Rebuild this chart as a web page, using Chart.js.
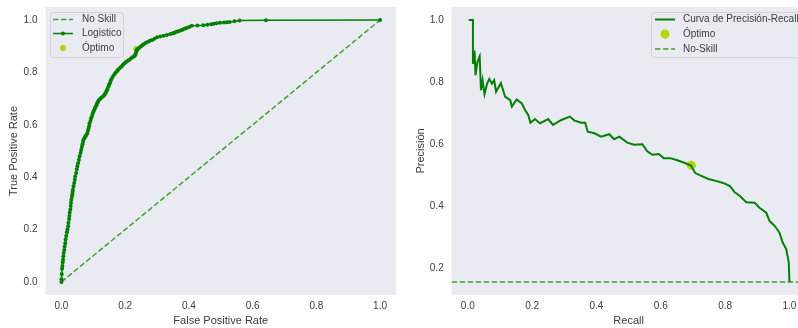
<!DOCTYPE html>
<html>
<head>
<meta charset="utf-8">
<script src="https://cdn.jsdelivr.net/npm/chart.js@4.4.0/dist/chart.umd.min.js"></script>
<style>
  html, body { margin: 0; padding: 0; background: #ffffff; overflow: hidden; width: 798px; height: 328px; }
  canvas { position: absolute; top: 0; }
  #roc { left: 0; }
  #pr { left: 400px; }
</style>
</head>
<body>
<canvas id="roc" width="400" height="328"></canvas>
<canvas id="pr" width="410" height="328"></canvas>
<script>
// ---- ROC curve (logistic model) ----
const rocFpr = [0, 0, 0.001, 0.002, 0.003, 0.004, 0.005, 0.006, 0.007, 0.009,
  0.010, 0.012, 0.013, 0.015, 0.017, 0.019, 0.021, 0.022, 0.024, 0.025,
  0.026, 0.028, 0.029, 0.030, 0.031, 0.033, 0.034, 0.035, 0.036, 0.038,
  0.040, 0.042, 0.043, 0.046, 0.048, 0.050, 0.052, 0.055, 0.057, 0.060,
  0.062, 0.064, 0.066, 0.068, 0.069, 0.072, 0.075, 0.078, 0.081, 0.083,
  0.085, 0.087, 0.088, 0.091, 0.093, 0.096, 0.098, 0.100, 0.102, 0.105,
  0.107, 0.110, 0.112, 0.115, 0.117, 0.121, 0.125, 0.130, 0.134, 0.137,
  0.140, 0.143, 0.145, 0.148, 0.150, 0.153, 0.155, 0.159, 0.163, 0.167,
  0.171, 0.175, 0.178, 0.182, 0.186, 0.190, 0.194, 0.198, 0.202, 0.207,
  0.212, 0.218, 0.223, 0.228, 0.231, 0.233, 0.235, 0.236, 0.238, 0.240,
  0.245, 0.250, 0.255, 0.259, 0.265, 0.272, 0.278, 0.285, 0.292, 0.300,
  0.310, 0.321, 0.331, 0.342, 0.350, 0.355, 0.361, 0.367, 0.374, 0.380,
  0.386, 0.393, 0.401, 0.409, 0.427, 0.445, 0.458, 0.470, 0.478, 0.487,
  0.498, 0.510, 0.519, 0.528, 0.543, 0.559, 0.642, 1.0];
const rocTpr = [0, 0.01, 0.03, 0.05, 0.061, 0.075, 0.085, 0.098, 0.11, 0.122,
  0.135, 0.148, 0.162, 0.175, 0.19, 0.2, 0.213, 0.226, 0.24, 0.252,
  0.264, 0.277, 0.29, 0.302, 0.314, 0.325, 0.335, 0.344, 0.352, 0.365,
  0.378, 0.39, 0.403, 0.416, 0.43, 0.442, 0.453, 0.467, 0.48, 0.492,
  0.504, 0.515, 0.525, 0.534, 0.542, 0.549, 0.555, 0.561, 0.567, 0.576,
  0.585, 0.595, 0.605, 0.615, 0.625, 0.634, 0.643, 0.649, 0.655, 0.662,
  0.668, 0.675, 0.682, 0.688, 0.694, 0.699, 0.703, 0.708, 0.713, 0.719,
  0.725, 0.732, 0.738, 0.747, 0.755, 0.762, 0.770, 0.779, 0.787, 0.794,
  0.801, 0.806, 0.81, 0.815, 0.820, 0.825, 0.83, 0.835, 0.839, 0.844,
  0.848, 0.853, 0.858, 0.862, 0.866, 0.871, 0.878, 0.885, 0.888, 0.890,
  0.895, 0.900, 0.905, 0.909, 0.913, 0.917, 0.921, 0.924, 0.929, 0.934,
  0.937, 0.940, 0.943, 0.947, 0.950, 0.952, 0.955, 0.957, 0.96, 0.963,
  0.967, 0.970, 0.974, 0.978, 0.979, 0.980, 0.982, 0.984, 0.986, 0.988,
  0.99, 0.991, 0.992, 0.993, 0.996, 0.998, 0.999, 1.0];
const noSkillFpr = [0, 1];
const noSkillTpr = [0, 1];
const rocOptFpr = [0.235];
const rocOptTpr = [0.89];

// ---- Precision-Recall curve ----
const prRecall = [0.003, 0.016, 0.016, 0.021, 0.024, 0.030, 0.037, 0.041, 0.046, 0.052, 0.060, 0.067, 0.075, 0.082,
  0.088, 0.103, 0.116, 0.132, 0.137, 0.152, 0.168, 0.178, 0.188, 0.195, 0.209, 0.224, 0.250, 0.265, 0.291, 0.317,
  0.332, 0.353, 0.365, 0.373, 0.394, 0.414, 0.440, 0.455, 0.471, 0.496, 0.517, 0.543, 0.558, 0.574, 0.594, 0.609,
  0.630, 0.651, 0.671, 0.694, 0.707, 0.728, 0.748, 0.774, 0.794, 0.815, 0.830, 0.846, 0.866, 0.892, 0.907, 0.928,
  0.938, 0.954, 0.969, 0.979, 0.990, 0.998, 1.0];
const prPrecision = [1.0, 1.0, 0.859, 0.902, 0.822, 0.865, 0.883, 0.774, 0.806, 0.761, 0.795, 0.810, 0.795, 0.806,
  0.769, 0.797, 0.753, 0.742, 0.721, 0.744, 0.731, 0.710, 0.694, 0.669, 0.681, 0.667, 0.681, 0.662, 0.678, 0.689,
  0.676, 0.669, 0.669, 0.640, 0.635, 0.624, 0.632, 0.616, 0.624, 0.605, 0.598, 0.600, 0.577, 0.566, 0.568, 0.555,
  0.555, 0.548, 0.541, 0.531, 0.507, 0.497, 0.488, 0.481, 0.475, 0.465, 0.445, 0.433, 0.413, 0.411, 0.395, 0.379,
  0.353, 0.337, 0.315, 0.283, 0.262, 0.219, 0.156];
const prNoSkill = 0.156;
const prOptRecall = [0.695];
const prOptPrecision = [0.532];

// ---- axes ----
const rocXLimits = [-0.05, 1.05];
const rocYLimits = [-0.05, 1.05];
const prXLimits = [-0.05, 1.05];
const prYLimits = [0.114, 1.042];
const rocTicks = [0, 0.2, 0.4, 0.6, 0.8, 1.0];
const prXTicks = [0, 0.2, 0.4, 0.6, 0.8, 1.0];
const prYTicks = [0.2, 0.4, 0.6, 0.8, 1.0];

const FONT = "'Liberation Sans', Arial, Helvetica, sans-serif";
const PLOT_BG = '#EAEAF2';
const TEXT = '#3c3c3c';
const LINE_GREEN = '#008000';
const DASH_GREEN = '#44a02a';
const OPT_COLOR = '#b5d400';

const zip = (xs, ys) => xs.map((x, i) => ({ x, y: ys[i] }));

const plotBackground = {
  id: 'plotBackground',
  beforeDraw(chart) {
    const { ctx, chartArea: a } = chart;
    ctx.save();
    ctx.fillStyle = PLOT_BG;
    ctx.fillRect(a.left, a.top, a.right - a.left, a.bottom - a.top);
    ctx.restore();
  }
};

// framed legend placed inside the plotting area
const boxLegend = {
  id: 'boxLegend',
  afterDraw(chart, args, o) {
    const ctx = chart.ctx;
    ctx.save();
    ctx.beginPath();
    ctx.roundRect(o.x + 0.5, o.y + 0.5, o.w, o.h, 3);
    ctx.fillStyle = 'rgba(234,234,242,0.8)';
    ctx.fill();
    ctx.strokeStyle = 'rgba(204,204,204,0.8)';
    ctx.lineWidth = 1;
    ctx.stroke();
    const [x0, x1] = o.sampleX;
    const xc = (x0 + x1) / 2;
    chart.data.datasets.forEach((ds, i) => {
      const y = o.rowY[i];
      if (ds.showLine) {
        ctx.beginPath();
        ctx.setLineDash(ds.borderDash || []);
        ctx.strokeStyle = ds.borderColor;
        ctx.lineWidth = ds.borderWidth;
        ctx.moveTo(x0, y);
        ctx.lineTo(x1, y);
        ctx.stroke();
        ctx.setLineDash([]);
        if (ds.pointRadius > 0) {
          ctx.beginPath();
          ctx.arc(xc, y, ds.pointRadius, 0, Math.PI * 2);
          ctx.fillStyle = ds.pointBackgroundColor;
          ctx.fill();
        }
      } else {
        ctx.beginPath();
        ctx.arc(xc, y, ds.pointRadius, 0, Math.PI * 2);
        ctx.fillStyle = ds.backgroundColor;
        ctx.fill();
      }
      ctx.fillStyle = TEXT;
      ctx.font = `10px ${FONT}`;
      ctx.textBaseline = 'middle';
      ctx.textAlign = 'left';
      ctx.fillText(ds.label, o.textX, y);
    });
    ctx.restore();
  }
};

function fixedSize(prop, size) {
  return (s) => {
    s[prop] = size;
    s.paddingTop = 0; s.paddingBottom = 0; s.paddingLeft = 0; s.paddingRight = 0;
  };
}
const setTicks = (vals) => (s) => { s.ticks = vals.map(v => ({ value: v })); };

function axis(limits, ticks, title, isX, size, titlePad) {
  return {
    type: 'linear',
    position: isX ? 'bottom' : 'left',
    min: limits[0],
    max: limits[1],
    afterBuildTicks: setTicks(ticks),
    afterFit: fixedSize(isX ? 'height' : 'width', size),
    grid: { display: false, drawTicks: false },
    border: { display: false },
    ticks: {
      color: TEXT,
      padding: isX ? 5.5 : 8,
      font: { family: FONT, size: 10 },
      callback: (v) => v.toFixed(1)
    },
    title: {
      display: true,
      text: title,
      color: TEXT,
      font: { family: FONT, size: 11 },
      padding: isX ? { top: 0, bottom: 0 } : { top: titlePad, bottom: 0 }
    }
  };
}

const common = {
  responsive: false,
  animation: false,
  events: [],
  plugins: { legend: { display: false }, tooltip: { enabled: false } }
};

new Chart(document.getElementById('roc'), {
  type: 'scatter',
  data: {
    datasets: [
      {
        label: 'No Skill',
        data: zip(noSkillFpr, noSkillTpr),
        showLine: true,
        borderColor: DASH_GREEN,
        borderWidth: 1.5,
        borderDash: [5.5, 2.5],
        pointRadius: 0,
        order: 2
      },
      {
        label: 'Logistico',
        data: zip(rocFpr, rocTpr),
        showLine: true,
        borderColor: LINE_GREEN,
        borderWidth: 1.5,
        pointRadius: 2,
        pointBorderWidth: 0,
        pointBackgroundColor: LINE_GREEN,
        backgroundColor: LINE_GREEN,
        order: 1
      },
      {
        label: 'Óptimo',
        data: zip(rocOptFpr, rocOptTpr),
        showLine: false,
        pointRadius: 3,
        pointBorderWidth: 0,
        backgroundColor: OPT_COLOR,
        pointBackgroundColor: OPT_COLOR,
        order: 3
      }
    ]
  },
  options: {
    ...common,
    layout: { padding: { top: 7, right: 2, left: 0, bottom: 0 } },
    scales: {
      x: axis(rocXLimits, rocTicks, 'False Positive Rate', true, 33),
      y: axis(rocYLimits, rocTicks, 'True Positive Rate', false, 45.5, 7.6)
    },
    plugins: {
      ...common.plugins,
      boxLegend: { x: 50, y: 12, w: 73, h: 45, sampleX: [53, 73], textX: 82, rowY: [19.5, 33.5, 48] }
    }
  },
  plugins: [plotBackground, boxLegend]
});

new Chart(document.getElementById('pr'), {
  type: 'scatter',
  data: {
    datasets: [
      {
        label: 'Curva de Precisión-Recall',
        data: zip(prRecall, prPrecision),
        showLine: true,
        borderColor: LINE_GREEN,
        borderWidth: 2,
        pointRadius: 0,
        order: 1
      },
      {
        label: 'Óptimo',
        data: zip(prOptRecall, prOptPrecision),
        showLine: false,
        pointRadius: 4.5,
        pointBorderWidth: 0,
        backgroundColor: OPT_COLOR,
        pointBackgroundColor: OPT_COLOR,
        order: 3
      },
      {
        label: 'No-Skill',
        data: zip(prXLimits, [prNoSkill, prNoSkill]),
        showLine: true,
        borderColor: DASH_GREEN,
        borderWidth: 1.5,
        borderDash: [5.5, 2.5],
        pointRadius: 0,
        order: 2
      }
    ]
  },
  options: {
    ...common,
    layout: { padding: { top: 7, right: 4, left: 0, bottom: 0 } },
    scales: {
      x: axis(prXLimits, prXTicks, 'Recall', true, 33),
      y: axis(prYLimits, prYTicks, 'Precisión', false, 51.7, 14.2)
    },
    plugins: {
      ...common.plugins,
      boxLegend: { x: 251, y: 12, w: 152, h: 45, sampleX: [255, 275], textX: 283, rowY: [19.5, 34, 49] }
    }
  },
  plugins: [plotBackground, boxLegend]
});
</script>
</body>
</html>
